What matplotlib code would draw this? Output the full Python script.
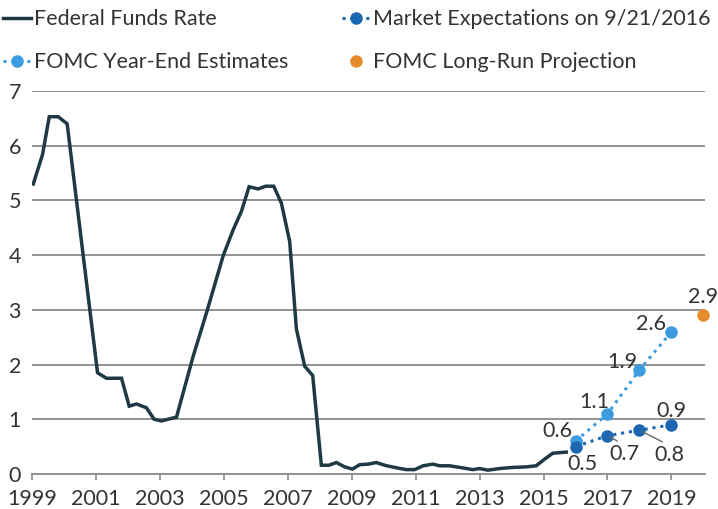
import matplotlib
matplotlib.use("Agg")
import matplotlib.pyplot as plt
from matplotlib.lines import Line2D

plt.rcParams["font.family"] = ["Lato", "DejaVu Sans"]

# Effective federal funds rate (percent)
ffr_years = [1999.04, 1999.33, 1999.54, 1999.82, 2000.10, 2000.60, 2001.05, 2001.33,
             2001.80, 2002.04, 2002.27, 2002.58, 2002.82, 2003.05, 2003.52, 2004.04,
             2004.46, 2004.98, 2005.29, 2005.55, 2005.79, 2006.07, 2006.31, 2006.56,
             2006.80, 2007.06, 2007.27, 2007.53, 2007.78, 2008.05, 2008.29, 2008.52,
             2008.78, 2009.02, 2009.25, 2009.51, 2009.77, 2010.03, 2010.34, 2010.71,
             2010.97, 2011.23, 2011.54, 2011.75, 2012.06, 2012.38, 2012.79, 2013.00,
             2013.26, 2013.63, 2014.04, 2014.46, 2014.77, 2015.03, 2015.29, 2015.71]
ffr_values = [5.30, 5.84, 6.53, 6.53, 6.40, 4.00, 1.85, 1.75,
              1.75, 1.24, 1.28, 1.21, 1.00, 0.97, 1.04, 2.15,
              2.95, 3.99, 4.46, 4.80, 5.25, 5.21, 5.26, 5.26,
              4.95, 4.25, 2.65, 1.97, 1.80, 0.16, 0.16, 0.21,
              0.13, 0.09, 0.17, 0.18, 0.21, 0.16, 0.12, 0.08,
              0.08, 0.15, 0.18, 0.15, 0.15, 0.12, 0.08, 0.10,
              0.07, 0.10, 0.12, 0.13, 0.15, 0.27, 0.38, 0.40]

# Projections
proj_years = [2016, 2017, 2018, 2019]
market_values = [0.5, 0.7, 0.8, 0.9]
fomc_values = [0.6, 1.1, 1.9, 2.6]
longrun_year = 2020
longrun_value = 2.9

year_ticks = list(range(1999, 2020, 2))
value_ticks = list(range(0, 8))

C_FFR = "#1f3945"
C_MKT = "#1b67b2"
C_FOMC = "#3c9ce0"
C_LR = "#e58b2c"
C_TXT = "#333333"
C_GRID = "#8a8a8a"
FS = 15.5

fig = plt.figure(figsize=(7.18, 5.09), dpi=100)
ax = fig.add_axes([32 / 718, 1 - 474 / 509, (705 - 32) / 718, (474 - 91) / 509])

ax.set_xlim(1999, 2020.05)
ax.set_ylim(0, 7)

for v in value_ticks[1:]:
    ax.axhline(v, color=C_GRID, lw=1.3, zorder=1)

for s in ["top", "right", "left"]:
    ax.spines[s].set_visible(False)
ax.spines["bottom"].set_color(C_GRID)
ax.spines["bottom"].set_linewidth(1.3)

ax.set_xticks(year_ticks)
ax.set_xticklabels([str(y) for y in year_ticks])
ax.set_yticks(value_ticks)
ax.set_yticklabels([str(v) for v in value_ticks])
ax.tick_params(axis="x", length=4, width=1.2, color=C_GRID, pad=6.5,
               labelsize=FS, labelcolor=C_TXT)
ax.tick_params(axis="y", length=0, pad=8, labelsize=FS, labelcolor=C_TXT)

ax.plot(ffr_years, ffr_values, color=C_FFR, lw=2.5, zorder=3,
        solid_joinstyle="miter")

DOT = (0, (1, 1.6))
ax.plot(proj_years, fomc_values, color=C_FOMC, lw=2.2, ls=DOT,
        marker="o", ms=8, zorder=4)
ax.plot(proj_years, market_values, color=C_MKT, lw=2.2, ls=DOT,
        marker="o", ms=8, zorder=5)
ax.plot([longrun_year], [longrun_value], color=C_LR, marker="o", ms=8,
        ls="none", zorder=5, clip_on=False)

lab = dict(fontsize=FS, color=C_TXT, ha="center", va="center", zorder=6)
pt = "offset points"

# FOMC estimate labels (up-left of each point)
for yr, v, dx, dy in zip(proj_years, fomc_values,
                         [-13, -9.6, -12.2, -14.4], [7.2, 8.4, 5.8, 5.8]):
    ax.annotate(f"{v:g}", (yr, v), xytext=(dx, dy), textcoords=pt, **lab)

# Market expectation labels
ax.annotate(f"{market_values[0]:g}", (proj_years[0], market_values[0]),
            xytext=(5, -12.7), textcoords=pt, **lab)
for i, (dx, dy) in zip((1, 2), [(12, -13.5), (21.6, -18)]):
    ax.annotate(f"{market_values[i]:g}", (proj_years[i], market_values[i]),
                xytext=(dx, dy), textcoords=pt, **lab,
                arrowprops=dict(arrowstyle="-", color="#6a6a6a", lw=1.0,
                                relpos=(0.42, 1.05), shrinkA=1, shrinkB=2))
ax.annotate(f"{market_values[3]:g}", (proj_years[3], market_values[3]),
            xytext=(0, 10), textcoords=pt, **lab)
ax.annotate(f"{longrun_value:g}", (longrun_year, longrun_value),
            xytext=(0, 13.5), textcoords=pt, annotation_clip=False, **lab)

handles = [
    Line2D([], [], color=C_FFR, lw=2.5),
    Line2D([], [], color=C_FOMC, lw=2.2, ls=DOT, marker="o", ms=8),
    Line2D([], [], color=C_MKT, lw=2.2, ls=DOT, marker="o", ms=8),
    Line2D([], [], color=C_LR, ls="none", marker="o", ms=8),
]
labels = ["Federal Funds Rate", "FOMC Year-End Estimates",
          "Market Expectations on 9/21/2016", "FOMC Long-Run Projection"]
leg = fig.legend(handles, labels, ncol=2, loc="upper left",
                 bbox_to_anchor=(0.0, 0.988), frameon=False, fontsize=FS,
                 handlelength=1.3, handletextpad=0.14, columnspacing=2.5,
                 labelspacing=1.07, borderaxespad=0.0, borderpad=0.15)
for t in leg.get_texts():
    t.set_color(C_TXT)

fig.savefig("out.png", dpi=100)
